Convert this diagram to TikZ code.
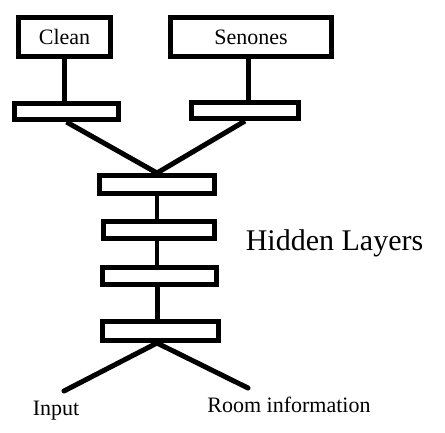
\documentclass[tikz,border=0pt]{standalone}
\usepackage{fontspec}
\setmainfont{Liberation Serif}
\usepackage{tikz}
\usetikzlibrary{positioning, calc}

\begin{document}
\begin{tikzpicture}[
  x=1pt, y=-1pt,
  font=\fontsize{22}{26}\selectfont,
  outbox/.style={rectangle, draw=black, line width=5pt, inner sep=0pt, align=center},
  hid/.style={rectangle, draw=black, line width=5pt, inner sep=0pt},
  con/.style={line width=5pt},
  thin/.style={line width=4pt},
  lbl/.style={anchor=base, inner sep=0pt}
]
\useasboundingbox (0,0) rectangle (445,432);
%% output nodes
\node[outbox, minimum width=92pt, minimum height=39pt]  (o_clean) at (64.5, 37) {Clean};
\node[outbox, minimum width=161pt, minimum height=39pt] (o_sen)   at (251, 37)  {Senones};
\node[hid, minimum width=104pt, minimum height=16pt] (b_left)  at (66.5, 111.5) {};
\node[hid, minimum width=107pt, minimum height=16pt] (b_right) at (245, 110.5)  {};
%% hidden layers
\node[hid, minimum width=115pt, minimum height=18pt] (h_one)   at (157, 184.5) {};
\node[hid, minimum width=111pt, minimum height=17pt] (h_two)   at (159, 230)   {};
\node[hid, minimum width=114pt, minimum height=17pt] (h_three) at (159.5, 275.5) {};
\node[hid, minimum width=116pt, minimum height=19pt] (h_four)  at (160.5, 331) {};
%% labels
\node[lbl, font=\fontsize{30}{34}\selectfont] (t_hidden) at (334.5, 250) {Hidden Layers};
\node[lbl] (t_input) at (56, 415)  {Input};
\node[lbl] (t_room)  at (289, 412) {Room information};
%% free ends
\coordinate (c_in)   at (64, 391);
\coordinate (c_room) at (248, 388);
\coordinate (c_base) at (h_one.south |- h_four.south);
%% connectors
\draw[con] (o_clean.south) -- (o_clean.south |- b_left.north);
\draw[con] (o_sen.south -| 248,0) -- (b_right.north -| 248,0);
\draw[con] (b_left.south)  -- (h_one.north);
\draw[con] (b_right.south) -- (h_one.north);
\draw[thin] (h_one.south)   -- (h_one.south |- h_two.north);
\draw[thin] (h_one.south |- h_two.south)   -- (h_one.south |- h_three.north);
\draw[con] (h_one.south |- h_three.south) -- (h_one.south |- h_four.north);
\draw[con, line cap=round] (c_base) -- (c_in);
\draw[con, line cap=round] (c_base) -- (c_room);
\end{tikzpicture}
\end{document}
